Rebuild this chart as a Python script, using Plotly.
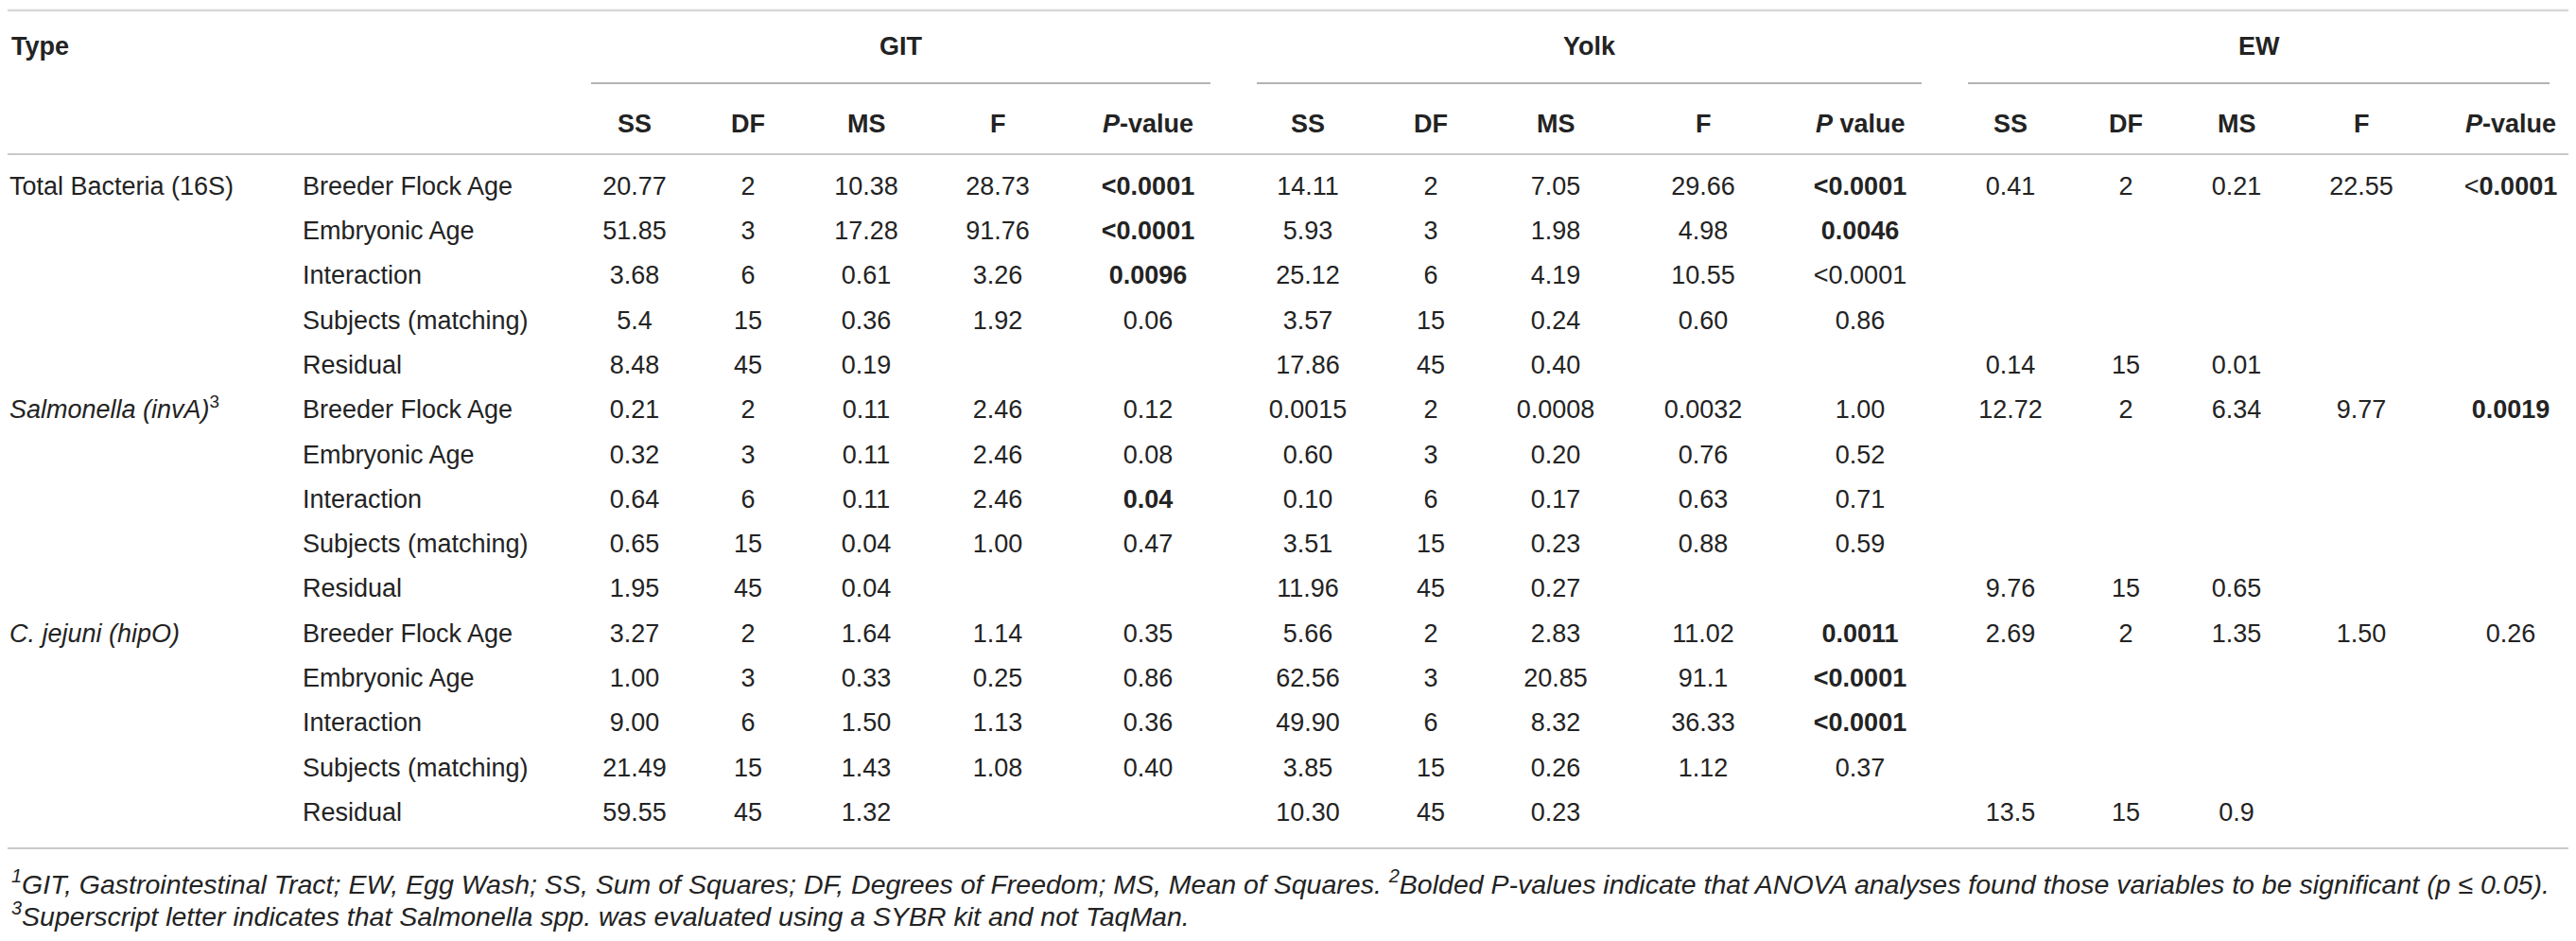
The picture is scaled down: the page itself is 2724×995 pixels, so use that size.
import plotly.graph_objects as go

# ---------------- data ----------------
TYPES = ["Total Bacteria (16S)", "Salmonella (invA)", "C. jejuni (hipO)"]
TYPE_ITALIC = [False, True, True]
TYPE_SUP = ["", "3", ""]
TYPE_ROWS = [0, 5, 10]

FACTORS = ["Breeder Flock Age", "Embryonic Age", "Interaction", "Subjects (matching)", "Residual"] * 3

GROUPS = ["GIT", "Yolk", "EW"]
STAT_HEADERS = ["SS", "DF", "MS", "F"]
P_HEADERS = ["-value", " value", "-value"]

git_ss = ["20.77", "51.85", "3.68", "5.4", "8.48", "0.21", "0.32", "0.64", "0.65", "1.95", "3.27", "1.00", "9.00", "21.49", "59.55"]
git_df = ["2", "3", "6", "15", "45", "2", "3", "6", "15", "45", "2", "3", "6", "15", "45"]
git_ms = ["10.38", "17.28", "0.61", "0.36", "0.19", "0.11", "0.11", "0.11", "0.04", "0.04", "1.64", "0.33", "1.50", "1.43", "1.32"]
git_f = ["28.73", "91.76", "3.26", "1.92", "", "2.46", "2.46", "2.46", "1.00", "", "1.14", "0.25", "1.13", "1.08", ""]
git_p = ["<0.0001", "<0.0001", "0.0096", "0.06", "", "0.12", "0.08", "0.04", "0.47", "", "0.35", "0.86", "0.36", "0.40", ""]
git_sig = [1, 1, 1, 0, 0, 0, 0, 1, 0, 0, 0, 0, 0, 0, 0]

yolk_ss = ["14.11", "5.93", "25.12", "3.57", "17.86", "0.0015", "0.60", "0.10", "3.51", "11.96", "5.66", "62.56", "49.90", "3.85", "10.30"]
yolk_df = ["2", "3", "6", "15", "45", "2", "3", "6", "15", "45", "2", "3", "6", "15", "45"]
yolk_ms = ["7.05", "1.98", "4.19", "0.24", "0.40", "0.0008", "0.20", "0.17", "0.23", "0.27", "2.83", "20.85", "8.32", "0.26", "0.23"]
yolk_f = ["29.66", "4.98", "10.55", "0.60", "", "0.0032", "0.76", "0.63", "0.88", "", "11.02", "91.1", "36.33", "1.12", ""]
yolk_p = ["<0.0001", "0.0046", "<0.0001", "0.86", "", "1.00", "0.52", "0.71", "0.59", "", "0.0011", "<0.0001", "<0.0001", "0.37", ""]
yolk_sig = [1, 1, 0, 0, 0, 0, 0, 0, 0, 0, 1, 1, 1, 0, 0]

ew_ss = ["0.41", "", "", "", "0.14", "12.72", "", "", "", "9.76", "2.69", "", "", "", "13.5"]
ew_df = ["2", "", "", "", "15", "2", "", "", "", "15", "2", "", "", "", "15"]
ew_ms = ["0.21", "", "", "", "0.01", "6.34", "", "", "", "0.65", "1.35", "", "", "", "0.9"]
ew_f = ["22.55", "", "", "", "", "9.77", "", "", "", "", "1.50", "", "", "", ""]
ew_p = ["<0.0001", "", "", "", "", "0.0019", "", "", "", "", "0.26", "", "", "", ""]
ew_sig = [2, 0, 0, 0, 0, 1, 0, 0, 0, 0, 0, 0, 0, 0, 0]  # 2 = only the number bold

GROUP_DATA = [
    [git_ss, git_df, git_ms, git_f, git_p, git_sig],
    [yolk_ss, yolk_df, yolk_ms, yolk_f, yolk_p, yolk_sig],
    [ew_ss, ew_df, ew_ms, ew_f, ew_p, ew_sig],
]

FOOTNOTE_1 = ("<sup>1</sup>GIT, Gastrointestinal Tract; EW, Egg Wash; SS, Sum of Squares; DF, Degrees of Freedom; "
              "MS, Mean of Squares. <sup>2</sup>Bolded P-values indicate that ANOVA analyses found those variables "
              "to be significant (p \u2264 0.05).")
FOOTNOTE_3 = "<sup>3</sup>Superscript letter indicates that Salmonella spp. was evaluated using a SYBR kit and not TaqMan."

# ---------------- layout / style ----------------
W, H = 2724, 995
ROW0_PX, ROW_PX = 199.0, 47.3          # first row centre and row pitch in pixels
def row_of(px):
    return (px - ROW0_PX) / ROW_PX

FONT = "Liberation Sans, Arial, Helvetica, sans-serif"
TXT = "#232323"
FS = 27
FS_FOOT = 28.5

X_TYPE, X_FACTOR = 10, 320
COL_X = [
    [671, 791, 916, 1055, 1214],
    [1383, 1513, 1645, 1801, 1967],
    [2126, 2248, 2365, 2497, 2655],
]
GROUP_LINE_X = [(625, 1280), (1329, 2032), (2081, 2696)]

Y_TITLE = row_of(49)
Y_GROUP_LINE = row_of(88)
Y_SUB = row_of(131)
Y_TOP_LINE = row_of(11)
Y_HEAD_LINE = row_of(163)
Y_BOT_LINE = row_of(897)
Y_FOOT1 = row_of(933)
Y_FOOT3 = row_of(967)

rows = list(range(len(FACTORS)))


def esc(s):
    return s.replace("<", "&lt;")


def fmt_p(s, sig):
    if sig == 1:
        return "<b>" + esc(s) + "</b>"
    if sig == 2 and s.startswith("<"):
        return "&lt;<b>" + s[1:] + "</b>"
    return esc(s)


def text_trace(x, ys, texts, pos):
    keep = [(y, t) for y, t in zip(ys, texts) if t]
    return go.Scatter(x=[x] * len(keep), y=[k[0] for k in keep], text=[k[1] for k in keep],
                      mode="text", textposition=pos,
                      textfont=dict(family=FONT, size=FS, color=TXT),
                      hoverinfo="skip", showlegend=False)


fig = go.Figure()

# type column
type_text = []
for t, it, sup in zip(TYPES, TYPE_ITALIC, TYPE_SUP):
    s = "<i>" + t + "</i>" if it else t
    if sup:
        s += "<sup>" + sup + "</sup>"
    type_text.append(s)
fig.add_trace(text_trace(X_TYPE, TYPE_ROWS, type_text, "middle right"))
# factor column
fig.add_trace(text_trace(X_FACTOR, rows, FACTORS, "middle right"))

# numeric columns
for gi, gdata in enumerate(GROUP_DATA):
    ss, df, ms, f, p, sig = gdata
    for ci, col in enumerate([ss, df, ms, f]):
        fig.add_trace(text_trace(COL_X[gi][ci], rows, [esc(v) for v in col], "middle center"))
    fig.add_trace(text_trace(COL_X[gi][4], rows,
                             [fmt_p(v, s) if v else "" for v, s in zip(p, sig)], "middle center"))

annotations = []
hfont = dict(family=FONT, size=FS, color=TXT)
annotations.append(dict(x=X_TYPE, y=Y_TITLE, xref="x", yref="y", text="<b>Type</b>", showarrow=False,
                        xanchor="left", yanchor="middle", font=hfont))
for gi, g in enumerate(GROUPS):
    x0, x1 = GROUP_LINE_X[gi]
    annotations.append(dict(x=(x0 + x1) / 2, y=Y_TITLE, xref="x", yref="y", text="<b>" + g + "</b>",
                            showarrow=False, xanchor="center", yanchor="middle", font=hfont))
    for ci, h in enumerate(STAT_HEADERS):
        annotations.append(dict(x=COL_X[gi][ci], y=Y_SUB, xref="x", yref="y", text="<b>" + h + "</b>",
                                showarrow=False, xanchor="center", yanchor="middle", font=hfont))
    annotations.append(dict(x=COL_X[gi][4], y=Y_SUB, xref="x", yref="y",
                            text="<b><i>P</i>" + P_HEADERS[gi] + "</b>",
                            showarrow=False, xanchor="center", yanchor="middle", font=hfont))

ffont = dict(family=FONT, size=FS_FOOT, color=TXT)
annotations.append(dict(x=10, y=Y_FOOT1, xref="x", yref="y", text="<i>" + FOOTNOTE_1 + "</i>",
                        showarrow=False, xanchor="left", yanchor="middle", font=ffont))
annotations.append(dict(x=10, y=Y_FOOT3, xref="x", yref="y", text="<i>" + FOOTNOTE_3 + "</i>",
                        showarrow=False, xanchor="left", yanchor="middle", font=ffont))

shapes = [
    dict(type="line", xref="x", yref="y", x0=8, x1=2716, y0=Y_TOP_LINE, y1=Y_TOP_LINE,
         line=dict(color="#d8d8d8", width=2.5)),
    dict(type="line", xref="x", yref="y", x0=8, x1=2716, y0=Y_HEAD_LINE, y1=Y_HEAD_LINE,
         line=dict(color="#b8b8b8", width=1.5)),
    dict(type="line", xref="x", yref="y", x0=8, x1=2716, y0=Y_BOT_LINE, y1=Y_BOT_LINE,
         line=dict(color="#b8b8b8", width=1.5)),
]
for x0, x1 in GROUP_LINE_X:
    shapes.append(dict(type="line", xref="x", yref="y", x0=x0, x1=x1, y0=Y_GROUP_LINE, y1=Y_GROUP_LINE,
                       line=dict(color="#999999", width=1.5)))

fig.update_layout(
    width=W, height=H, margin=dict(l=0, r=0, t=0, b=0),
    paper_bgcolor="white", plot_bgcolor="white",
    xaxis=dict(range=[0, W], visible=False, fixedrange=True),
    yaxis=dict(range=[row_of(H), row_of(0)], visible=False, fixedrange=True),
    annotations=annotations, shapes=shapes, showlegend=False,
)

fig.write_html("out.html", config={"displayModeBar": False},
               post_script="document.body.style.margin='0';document.body.style.overflow='hidden';")
